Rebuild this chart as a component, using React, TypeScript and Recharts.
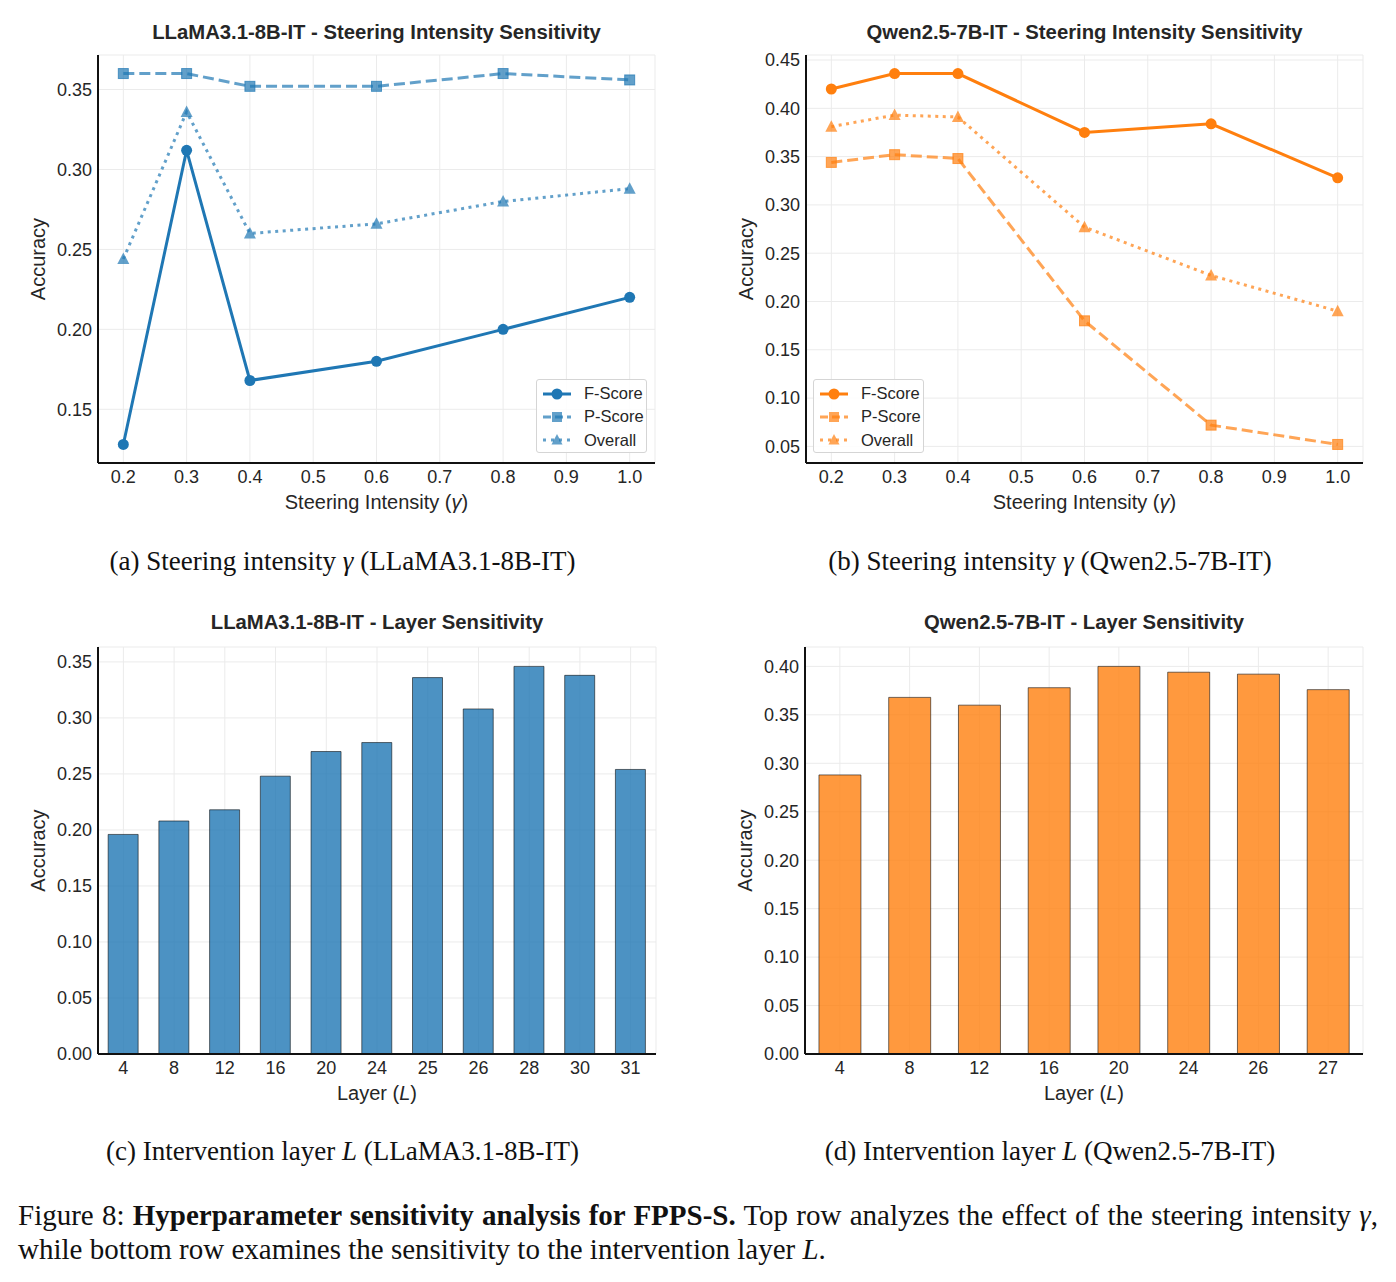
import React from 'react';
import { LineChart, Line, BarChart, Bar, XAxis, YAxis, CartesianGrid, Legend } from 'recharts';

// steering intensity sweep (top row)
const gammaValues = [0.2, 0.3, 0.4, 0.6, 0.8, 1.0];
const llamaFScore = [0.128, 0.312, 0.168, 0.18, 0.2, 0.22];
const llamaPScore = [0.36, 0.36, 0.352, 0.352, 0.36, 0.356];
const llamaOverall = [0.244, 0.336, 0.26, 0.266, 0.28, 0.288];
const qwenFScore = [0.42, 0.436, 0.436, 0.375, 0.384, 0.328];
const qwenPScore = [0.344, 0.352, 0.348, 0.18, 0.072, 0.052];
const qwenOverall = [0.381, 0.393, 0.391, 0.277, 0.227, 0.19];

// intervention layer sweep (bottom row)
const llamaLayers = ['4', '8', '12', '16', '20', '24', '25', '26', '28', '30', '31'];
const llamaLayerAcc = [0.196, 0.208, 0.218, 0.248, 0.27, 0.278, 0.336, 0.308, 0.346, 0.338, 0.254];
const qwenLayers = ['4', '8', '12', '16', '20', '24', '26', '27'];
const qwenLayerAcc = [0.288, 0.368, 0.36, 0.378, 0.4, 0.394, 0.392, 0.376];

// tick labels
const gammaTicks = [0.2, 0.3, 0.4, 0.5, 0.6, 0.7, 0.8, 0.9, 1.0];
const llamaGammaYTicks = [0.15, 0.2, 0.25, 0.3, 0.35];
const qwenGammaYTicks = [0.05, 0.1, 0.15, 0.2, 0.25, 0.3, 0.35, 0.4, 0.45];
const llamaLayerYTicks = [0, 0.05, 0.1, 0.15, 0.2, 0.25, 0.3, 0.35];
const qwenLayerYTicks = [0, 0.05, 0.1, 0.15, 0.2, 0.25, 0.3, 0.35, 0.4];

const BLUE = '#1f77b4';
const ORANGE = '#ff7f0e';
const SANS = '"Liberation Sans", Arial, sans-serif';
const SERIF = '"Liberation Serif", "Times New Roman", serif';
const INK = '#262626';
const GRID = '#ebebeb';

const tickStyle = { fontSize: 18, fill: INK, fontFamily: SANS };
const axisLineStyle = { stroke: '#111', strokeWidth: 2 };

// matplotlib-like 5% margin around the data
const padDomain = (arrs: number[][]) => {
  const all = arrs.flat();
  const lo = Math.min(...all);
  const hi = Math.max(...all);
  const pad = (hi - lo) * 0.05;
  return [lo - pad, hi + pad];
};

const squareDot = (color: string) => (props: any) => {
  const { cx, cy, index } = props;
  if (cx == null || cy == null) return <g key={'sq' + index} />;
  return (
    <rect key={'sq' + index} x={cx - 5} y={cy - 5} width={10} height={10}
      fill={color} fillOpacity={0.7} stroke={color} strokeOpacity={0.7} strokeWidth={1} />
  );
};

const triangleDot = (color: string) => (props: any) => {
  const { cx, cy, index } = props;
  if (cx == null || cy == null) return <g key={'tr' + index} />;
  const p = `${cx},${cy - 6.5} ${cx + 6},${cy + 5} ${cx - 6},${cy + 5}`;
  return <polygon key={'tr' + index} points={p} fill={color} fillOpacity={0.7} />;
};

const yLabel = (offset: number) => ({
  content: (props: any) => {
    const vb = props.viewBox || {};
    const x = vb.x + vb.width - offset;
    const cy = vb.y + vb.height / 2;
    return (
      <text x={x} y={cy} transform={`rotate(-90 ${x} ${cy})`} textAnchor="middle"
        dominantBaseline="central" fontSize={20} fill={INK} fontFamily={SANS}>
        Accuracy
      </text>
    );
  },
});

const xLabel = (name: string, sym: string) => ({
  content: (props: any) => {
    const vb = props.viewBox || {};
    return (
      <text x={vb.x + vb.width / 2} y={vb.y + 46} textAnchor="middle" fontSize={20} fill={INK} fontFamily={SANS}>
        {name} (<tspan fontStyle="italic">{sym}</tspan>)
      </text>
    );
  },
});

const LegendBox = ({ color }: { color: string }) => {
  const rows = [
    { name: 'F-Score', dash: undefined, op: 1, mark: 'circle' },
    { name: 'P-Score', dash: '8 4', op: 0.7, mark: 'square' },
    { name: 'Overall', dash: '3 5', op: 0.7, mark: 'triangle' },
  ];
  return (
    <div style={{ width: 111, height: 74, boxSizing: 'border-box', border: '1.5px solid #d5d5d5', borderRadius: 3,
      background: 'rgba(255,255,255,0.85)', padding: '2px 0 0 5px', fontFamily: SANS, fontSize: 16.5, color: INK }}>
      {rows.map((r) => (
        <div key={r.name} style={{ display: 'flex', alignItems: 'center', height: 23.3 }}>
          <svg width={30} height={14} style={{ marginRight: 12 }}>
            <line x1={1} y1={7} x2={29} y2={7} stroke={color} strokeOpacity={r.op} strokeWidth={3} strokeDasharray={r.dash} />
            {r.mark === 'circle' && <circle cx={15} cy={7} r={5.5} fill={color} />}
            {r.mark === 'square' && <rect x={10} y={2} width={10} height={10} fill={color} fillOpacity={0.7} />}
            {r.mark === 'triangle' && <polygon points="15,1 20.5,11.5 9.5,11.5" fill={color} fillOpacity={0.7} />}
          </svg>
          <span>{r.name}</span>
        </div>
      ))}
    </div>
  );
};

type GammaProps = {
  color: string; f: number[]; p: number[]; o: number[]; yTicks: number[];
  width: number; yAxisWidth: number; right: number; legendLeft: number;
};

const GammaChart = ({ color, f, p, o, yTicks, width, yAxisWidth, right, legendLeft }: GammaProps) => {
  const rows = gammaValues.map((g, i) => ({ gamma: g, f: f[i], p: p[i], o: o[i] }));
  const yDomain = padDomain([f, p, o]);
  return (
    <LineChart width={width} height={530} data={rows} margin={{ top: 55, right, bottom: 0, left: 0 }}>
      <CartesianGrid stroke={GRID} strokeWidth={1} />
      <XAxis dataKey="gamma" type="number" domain={[0.16, 1.04]} allowDataOverflow ticks={gammaTicks}
        tickFormatter={(v: number) => v.toFixed(1)} tick={tickStyle} tickLine={false} tickSize={4} tickMargin={3}
        axisLine={axisLineStyle} height={67} label={xLabel('Steering Intensity', 'γ')} />
      <YAxis type="number" domain={yDomain} allowDataOverflow ticks={yTicks} width={yAxisWidth}
        tickFormatter={(v: number) => v.toFixed(2)} tick={tickStyle} tickLine={false} tickSize={4} tickMargin={2}
        axisLine={axisLineStyle} label={yLabel(60)} />
      <Legend layout="vertical" align="center" verticalAlign="middle"
        wrapperStyle={{ left: legendLeft, top: 379, width: 111, height: 74 }}
        content={() => <LegendBox color={color} />} />
      <Line dataKey="p" name="P-Score" stroke={color} strokeOpacity={0.7} strokeWidth={3} strokeDasharray="11 5"
        dot={squareDot(color)} activeDot={false} isAnimationActive={false} />
      <Line dataKey="o" name="Overall" stroke={color} strokeOpacity={0.7} strokeWidth={3} strokeDasharray="3 4.5"
        dot={triangleDot(color)} activeDot={false} isAnimationActive={false} />
      <Line dataKey="f" name="F-Score" stroke={color} strokeWidth={3}
        dot={{ r: 5.5, fill: color, stroke: color, strokeWidth: 0 }} activeDot={false} isAnimationActive={false} />
    </LineChart>
  );
};

type LayerProps = {
  color: string; layers: string[]; acc: number[]; yTicks: number[];
  width: number; yAxisWidth: number; right: number;
};

const LayerChart = ({ color, layers, acc, yTicks, width, yAxisWidth, right }: LayerProps) => {
  const rows = layers.map((l, i) => ({ layer: l, acc: acc[i] }));
  const top = Math.max(...acc) * 1.05;
  return (
    <BarChart width={width} height={540} data={rows} margin={{ top: 57, right, bottom: 0, left: 0 }} barCategoryGap="20%">
      <CartesianGrid stroke={GRID} strokeWidth={1} />
      <XAxis dataKey="layer" interval={0} tick={tickStyle} tickLine={false} tickSize={4} tickMargin={3}
        axisLine={axisLineStyle} height={76} label={xLabel('Layer', 'L')} />
      <YAxis type="number" domain={[0, top]} allowDataOverflow ticks={yTicks} width={yAxisWidth}
        tickFormatter={(v: number) => v.toFixed(2)} tick={tickStyle} tickLine={false} tickSize={4} tickMargin={2}
        axisLine={axisLineStyle} label={yLabel(60)} />
      <Bar dataKey="acc" fill={color} fillOpacity={0.8} stroke="#000" strokeOpacity={0.55} strokeWidth={1}
        isAnimationActive={false} />
    </BarChart>
  );
};

const Title = ({ cx, cy, children }: { cx: number; cy: number; children: React.ReactNode }) => (
  <div style={{ position: 'absolute', left: cx - 350, top: cy - 13, width: 700, lineHeight: '26px', textAlign: 'center',
    fontFamily: SANS, fontWeight: 'bold', fontSize: 20.3, color: INK }}>{children}</div>
);

const SubCaption = ({ cx, cy, children }: { cx: number; cy: number; children: React.ReactNode }) => (
  <div style={{ position: 'absolute', left: cx - 400, top: cy - 16, width: 800, lineHeight: '32px', textAlign: 'center',
    fontFamily: SERIF, fontSize: 27, color: '#111' }}>{children}</div>
);

const App = () => (
  <div style={{ position: 'absolute', left: 0, top: 0, width: 1396, height: 1282, background: '#fff', overflow: 'hidden' }}>
    <Title cx={376.5} cy={32}>LLaMA3.1-8B-IT - Steering Intensity Sensitivity</Title>
    <Title cx={1084.5} cy={32}>Qwen2.5-7B-IT - Steering Intensity Sensitivity</Title>
    <Title cx={377} cy={622}>LLaMA3.1-8B-IT - Layer Sensitivity</Title>
    <Title cx={1084} cy={622}>Qwen2.5-7B-IT - Layer Sensitivity</Title>

    <div style={{ position: 'absolute', left: 0, top: 0 }}>
      <GammaChart color={BLUE} f={llamaFScore} p={llamaPScore} o={llamaOverall} yTicks={llamaGammaYTicks}
        width={700} yAxisWidth={98} right={45} legendLeft={536} />
    </div>
    <div style={{ position: 'absolute', left: 700, top: 0 }}>
      <GammaChart color={ORANGE} f={qwenFScore} p={qwenPScore} o={qwenOverall} yTicks={qwenGammaYTicks}
        width={696} yAxisWidth={106} right={33} legendLeft={113} />
    </div>
    <div style={{ position: 'absolute', left: 0, top: 590 }}>
      <LayerChart color={BLUE} layers={llamaLayers} acc={llamaLayerAcc} yTicks={llamaLayerYTicks}
        width={700} yAxisWidth={98} right={44} />
    </div>
    <div style={{ position: 'absolute', left: 700, top: 590 }}>
      <LayerChart color={ORANGE} layers={qwenLayers} acc={qwenLayerAcc} yTicks={qwenLayerYTicks}
        width={696} yAxisWidth={105} right={33} />
    </div>

    <SubCaption cx={342.5} cy={561}>(a) Steering intensity <i>γ</i> (LLaMA3.1-8B-IT)</SubCaption>
    <SubCaption cx={1050} cy={561}>(b) Steering intensity <i>γ</i> (Qwen2.5-7B-IT)</SubCaption>
    <SubCaption cx={342.5} cy={1151}>(c) Intervention layer <i>L</i> (LLaMA3.1-8B-IT)</SubCaption>
    <SubCaption cx={1050} cy={1151}>(d) Intervention layer <i>L</i> (Qwen2.5-7B-IT)</SubCaption>

    <div style={{ position: 'absolute', left: 18, top: 1198, width: 1360, fontFamily: SERIF, fontSize: 29, color: '#111', lineHeight: '34px' }}>
      <div style={{ textAlign: 'justify', textAlignLast: 'justify', whiteSpace: 'nowrap' }}>
        Figure 8: <b>Hyperparameter sensitivity analysis for FPPS-S.</b> Top row analyzes the effect of the steering intensity <i>γ</i>,
      </div>
      <div>while bottom row examines the sensitivity to the intervention layer <i>L</i>.</div>
    </div>
  </div>
);

export default App;
